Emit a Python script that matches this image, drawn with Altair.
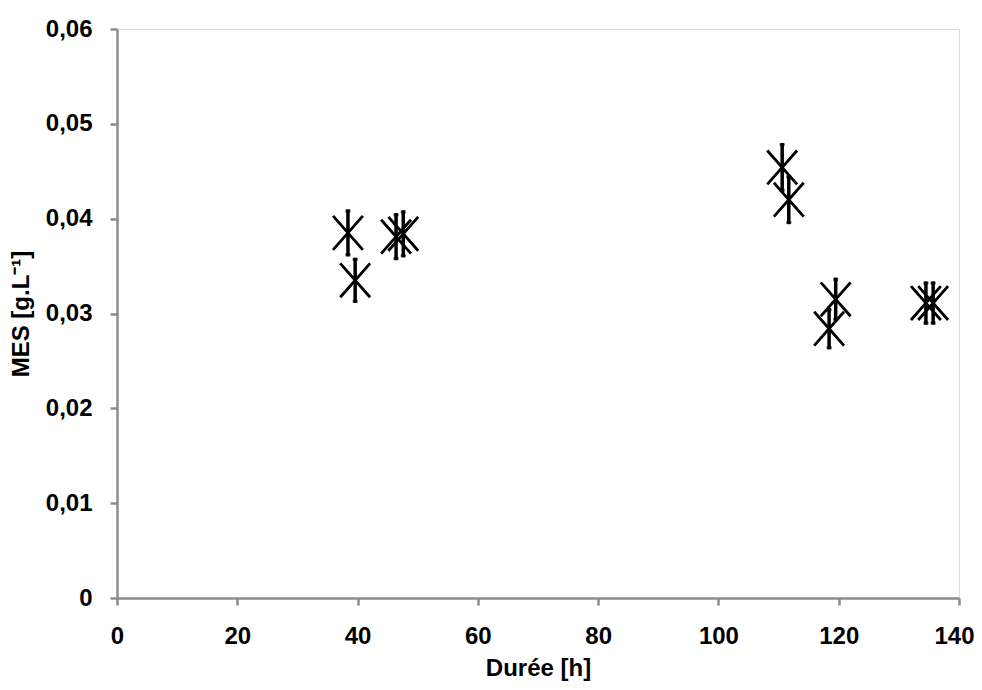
import altair as alt
import pandas as pd

duree = [38.4, 39.6, 46.4, 47.6, 110.6, 111.7, 118.4, 119.5, 134.5, 135.7]
mes = [0.0385, 0.0335, 0.0381, 0.0384, 0.0454, 0.0420, 0.0284, 0.0315, 0.0311, 0.0311]
err = [0.0023, 0.0022, 0.0023, 0.0023, 0.0024, 0.0024, 0.0020, 0.0021, 0.0021, 0.0021]

x_ticks = [0, 20, 40, 60, 80, 100, 120, 140]
y_ticks = [0, 0.01, 0.02, 0.03, 0.04, 0.05, 0.06]

df = pd.DataFrame({"duree": duree, "mes": mes, "err": err})
df["lo"] = df["mes"] - df["err"]
df["hi"] = df["mes"] + df["err"]

FONT = "Liberation Sans"
AX = "#8c8c8c"
FS = 24

xs = alt.Scale(domain=[0, 140], nice=False)
ys = alt.Scale(domain=[0, 0.06], nice=False)

xaxis = alt.Axis(values=x_ticks, title="Durée [h]", grid=False, domainColor=AX, domainWidth=2.5,
                 tickColor=AX, tickWidth=2.5, tickSize=7, labelFontSize=FS, labelFont=FONT,
                 labelFontWeight="bold", labelColor="black", labelPadding=19, titleFont=FONT,
                 titleFontSize=FS, titleFontWeight="bold", titleColor="black", titlePadding=8,
                 labelFlush=False,
                 labelAlign={"expr": "datum.value == 140 ? 'right' : 'center'"},
                 labelOffset={"expr": "datum.value == 140 ? 15 : 0"})
yaxis = alt.Axis(values=y_ticks, title="MES [g.L⁻¹]", grid=False, domainColor=AX, domainWidth=2.5,
                 tickColor=AX, tickWidth=2.5, tickSize=7, labelFontSize=FS, labelFont=FONT,
                 labelFontWeight="bold", labelColor="black", labelPadding=18, titleFont=FONT,
                 titleFontSize=FS, titleFontWeight="bold", titleColor="black", titlePadding=12,
                 labelFlush=False,
                 labelExpr="datum.value == 0 ? '0' : replace(format(datum.value, '.2f'), '.', ',')")

base = alt.Chart(df)

bars = base.mark_rule(color="black", strokeWidth=3.5, strokeCap="square").encode(
    x=alt.X("duree:Q", scale=xs, axis=xaxis),
    y=alt.Y("lo:Q", scale=ys, axis=yaxis),
    y2="hi:Q",
)

caps_lo = base.mark_tick(color="black", thickness=3, size=5, orient="horizontal").encode(
    x=alt.X("duree:Q", scale=xs), y=alt.Y("lo:Q", scale=ys))
caps_hi = base.mark_tick(color="black", thickness=3, size=5, orient="horizontal").encode(
    x=alt.X("duree:Q", scale=xs), y=alt.Y("hi:Q", scale=ys))

pts = base.mark_point(shape="M-0.88,-1L0.88,1M-0.88,1L0.88,-1", size=1150, stroke="black",
                      strokeWidth=2.8, filled=False, opacity=1).encode(
    x=alt.X("duree:Q", scale=xs), y=alt.Y("mes:Q", scale=ys))

chart = alt.layer(bars, caps_lo, caps_hi, pts).properties(
    width=842, height=569,
    autosize=alt.AutoSizeParams(type="none"),
    padding={"left": 109, "top": 21, "right": 15, "bottom": 84},
).configure_view(stroke=None).configure(background="white")

chart.save("out.html", embed_options={"renderer": "svg", "actions": False})
